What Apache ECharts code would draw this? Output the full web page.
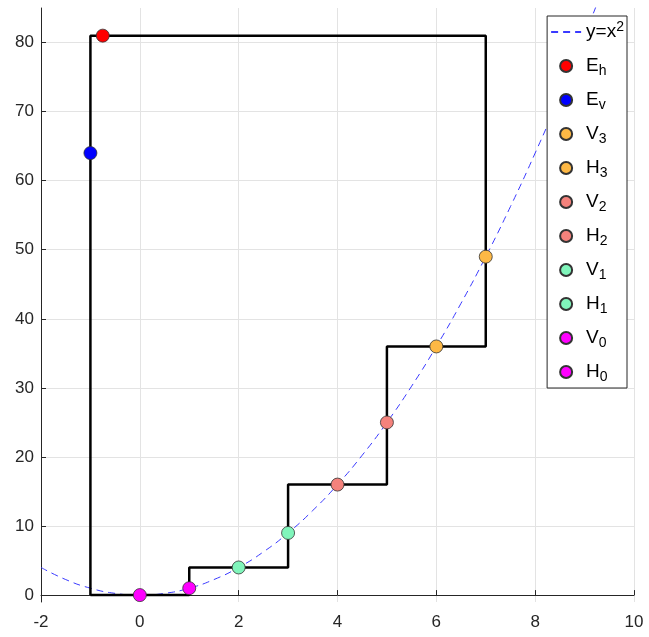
<!DOCTYPE html>
<html>
<head>
<meta charset="utf-8">
<script src="https://cdn.jsdelivr.net/npm/echarts@6/dist/echarts.min.js"></script>
<style>
  html, body { margin: 0; padding: 0; background: #fff; }
  #main { width: 649px; height: 637px; }
</style>
</head>
<body>
<div id="main"></div>
<script>
 var myChart = echarts.init(document.getElementById('main'));

 // y = x^2 curve
 var curvePts = [
   [-2, 4], [-1.5, 2.25], [-1, 1], [-0.5, 0.25], [0, 0], [0.5, 0.25], [1, 1],
   [1.5, 2.25], [2, 4], [2.5, 6.25], [3, 9], [3.5, 12.25], [4, 16], [4.5, 20.25],
   [5, 25], [5.5, 30.25], [6, 36], [6.5, 42.25], [7, 49], [7.5, 56.25], [8, 64],
   [8.5, 72.25], [9, 81], [9.5, 90.25]
 ];
 // black staircase path
 var pathPts = [
   [-1, 0], [1, 0], [1, 4], [3, 4], [3, 16], [5, 16], [5, 36],
   [7, 36], [7, 81], [-1, 81], [-1, 0]
 ];
 // marker names / positions / colors
 var markNames = ['Eh', 'Ev', 'V3', 'H3', 'V2', 'H2', 'V1', 'H1', 'V0', 'H0'];
 var markPts = [[-0.75, 81], [-1, 64], [7, 49], [6, 36], [5, 25], [4, 16], [3, 9], [2, 4], [1, 1], [0, 0]];
 var markColors = ['#ff0000', '#0000ff', '#fdb845', '#fdb845', '#f4827c', '#f4827c',
   '#80f5bb', '#80f5bb', '#ff00ff', '#ff00ff'];
 var xTicks = [-2, 0, 2, 4, 6, 8, 10];
 var yTicks = [0, 10, 20, 30, 40, 50, 60, 70, 80];

 var font = 'Liberation Sans, Arial, Helvetica, sans-serif';

 var series = [{
   name: 'y=x2',
   type: 'line',
   data: curvePts,
   smooth: true,
   symbol: 'none',
   lineStyle: { color: '#3a3aff', width: 1, type: [7, 5] },
   itemStyle: { color: '#3a3aff' },
   z: 2
 }, {
   name: 'path',
   type: 'line',
   data: pathPts,
   symbol: 'none',
   lineStyle: { color: '#000', width: 2.5 },
   z: 3
 }];
 for (var i = 0; i < markNames.length; i++) {
   series.push({
     name: markNames[i],
     type: 'scatter',
     data: [markPts[i]],
     symbol: 'circle',
     symbolSize: 13,
     itemStyle: { color: markColors[i], borderColor: '#333', borderWidth: 0.8, opacity: 1 },
     z: 4
   });
 }

 var legendData = [{ name: 'y=x2', itemStyle: { opacity: 0 } }].concat(markNames);

 var option = {
   animation: false,
   textStyle: { fontFamily: font },
   grid: { left: 41, right: 15, top: 8, bottom: 35, containLabel: false },
   xAxis: {
     type: 'value',
     min: -2,
     max: 10,
     interval: 2,
     axisLine: { show: true, lineStyle: { color: '#262626', width: 1 } },
     axisTick: { show: true, inside: true, length: 5, customValues: xTicks, lineStyle: { color: '#262626' } },
     axisLabel: { color: '#262626', fontSize: 17, margin: 12, fontFamily: font, customValues: xTicks },
     splitLine: { show: true, lineStyle: { color: '#e3e3e3', width: 1 } }
   },
   yAxis: {
     type: 'value',
     min: -1,
     max: 85,
     axisLine: { show: true, onZero: false, lineStyle: { color: '#262626', width: 1 } },
     axisTick: { show: true, inside: true, length: 5, customValues: yTicks, lineStyle: { color: '#262626' } },
     axisLabel: { color: '#262626', fontSize: 17, margin: 7, fontFamily: font, customValues: yTicks },
     splitLine: { show: true, lineStyle: { color: '#e3e3e3', width: 1 } }
   },
   legend: {
     orient: 'vertical',
     right: 22,
     top: 16,
     padding: [4, 3, 4, 3],
     itemWidth: 30,
     itemHeight: 12,
     itemGap: 10,
     backgroundColor: '#fff',
     borderColor: '#262626',
     borderWidth: 1,
     borderRadius: 0,
     selectedMode: false,
     data: legendData,
     formatter: function(name) {
       if (name == 'y=x2') {
         return '{m|y=x}{p|2}';
       }
       return '{m|' + name.charAt(0) + '}{s|' + name.charAt(1) + '}';
     },
     textStyle: {
       color: '#000',
       fontFamily: font,
       fontSize: 19,
       lineHeight: 24,
       rich: {
         m: { fontSize: 19, lineHeight: 24, fontFamily: font, color: '#000', verticalAlign: 'middle' },
         s: { fontSize: 14, lineHeight: 12, fontFamily: font, color: '#000', verticalAlign: 'bottom' },
         p: { fontSize: 14, lineHeight: 12, fontFamily: font, color: '#000', verticalAlign: 'top' }
       }
     }
   },
   series: series
 };
 myChart.setOption(option);
</script>
</body>
</html>
